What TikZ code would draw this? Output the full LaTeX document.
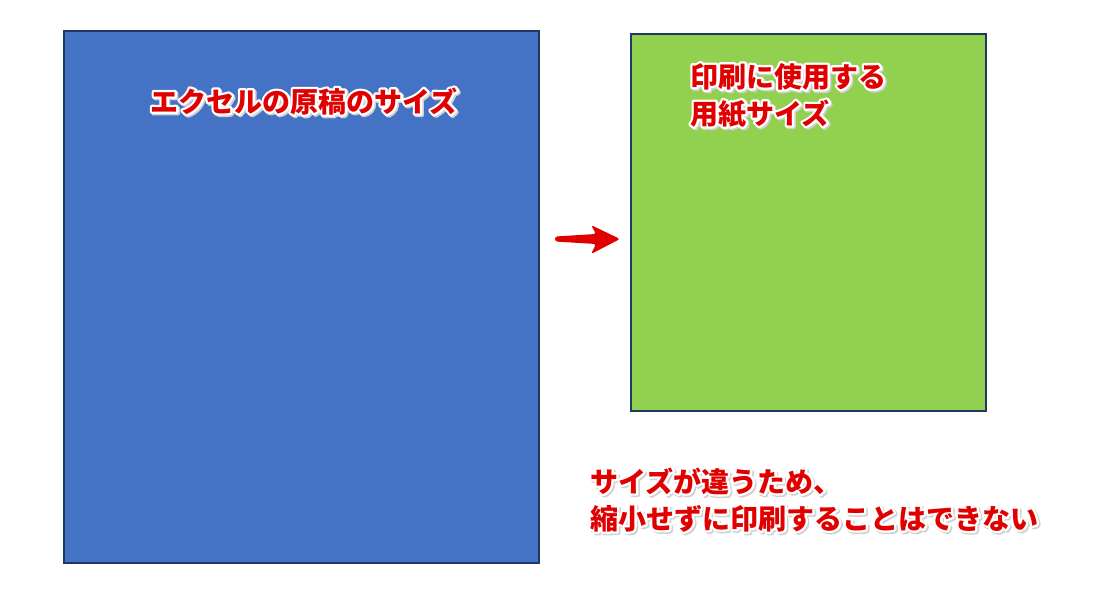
\documentclass[tikz,border=0pt]{standalone}
\usepackage{fontspec}
\newfontfamily\jpfont{Noto Sans CJK JP}
\usetikzlibrary{calc}
\definecolor{excelblue}{HTML}{4472C4}
\definecolor{papergreen}{HTML}{92D050}
\definecolor{edgenavy}{HTML}{1F3864}
\definecolor{notered}{HTML}{E00000}
% soft shadow and white rim drawn behind the red letters
\newcommand{\glow}[1]{%
  \rlap{\raisebox{-1.5pt}{\kern1.5pt\special{pdf:code q 2 Tr 0.82 0.82 0.82 rg 0.82 0.82 0.82 RG 4.5 w 1 j}#1\special{pdf:code Q}}}%
  \rlap{\special{pdf:code q 2 Tr 1 1 1 rg 1 1 1 RG 4.5 w 1 j}#1\special{pdf:code Q}}#1}
\begin{document}
\begin{tikzpicture}[x=1pt, y=-1pt,
  sheet/.style = {draw=edgenavy, line width=1.5pt, anchor=north west, inner sep=0pt},
  note/.style = {text=notered, anchor=base west, inner sep=0pt, align=left,
    font=\jpfont\bfseries\fontsize{28}{37}\selectfont}]
\useasboundingbox (0,0) rectangle (1104,611);
\node[sheet, fill=excelblue, minimum width=475pt, minimum height=532pt] (excel) at (63,30) {};
\node[sheet, fill=papergreen, minimum width=355pt, minimum height=377pt] (paper) at (630,33) {};

\node[note] (excellabel) at (150,112) {\glow{エクセルの原稿のサイズ}};
\node[note] (paperlabel) at (690,124) {\glow{印刷に使用する}\\\glow{用紙サイズ}};
\node[note] (reason) at (590,529) {\glow{サイズが違うため、}\\\glow{縮小せずに印刷することはできない}};

% arrow between the sheets
\coordinate (from) at (555,239);
\coordinate (to) at (620,239);
\fill[notered, rounded corners=2.5pt]
  ($(from)+(0,-2.5)$) -- ($(to)+(-24,-5)$) -- ($(to)+(-29,-14)$) -- (to)
  -- ($(to)+(-29,15)$) -- ($(to)+(-24,5)$) -- ($(from)+(0,2.5)$) -- cycle;
\end{tikzpicture}
\end{document}
